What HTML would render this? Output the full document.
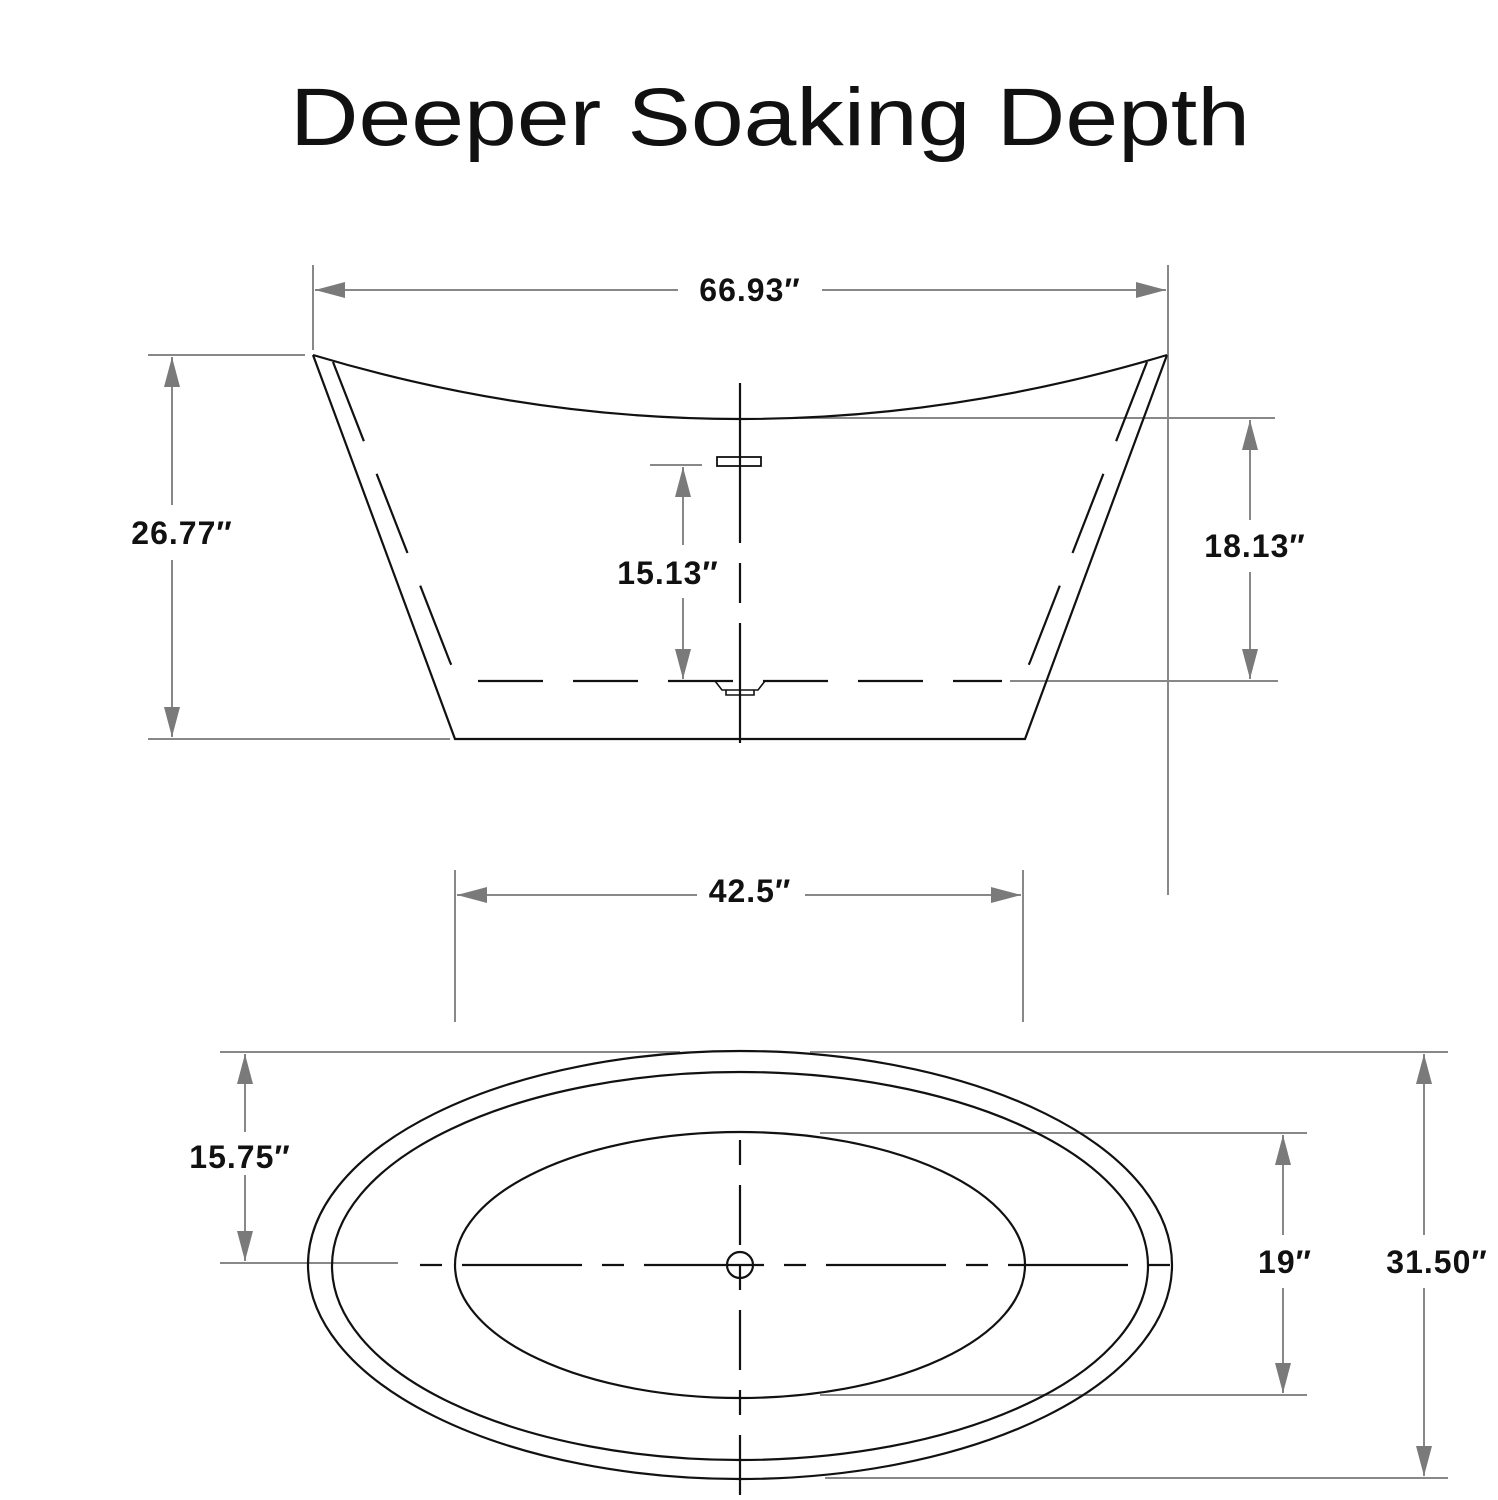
<!DOCTYPE html>
<html><head><meta charset="utf-8"><style>
html,body{margin:0;padding:0;background:#fff}
svg{display:block}
</style></head><body>
<svg width="1498" height="1500" viewBox="0 0 1498 1500" xmlns="http://www.w3.org/2000/svg">
<defs>
<marker id="a" viewBox="0 0 30 16" refX="30" refY="8" markerWidth="30" markerHeight="16" markerUnits="userSpaceOnUse" orient="auto-start-reverse"><path d="M0,0 L30,8 L0,16 Z" fill="#7a7a7a"/></marker>
</defs>
<text x="770" y="145" font-family="Liberation Sans, sans-serif" font-size="82" text-anchor="middle" textLength="960" lengthAdjust="spacingAndGlyphs" fill="#111">Deeper Soaking Depth</text>

<g stroke="#888" stroke-width="2" fill="none">
<line x1="313" y1="265" x2="313" y2="350"/>
<line x1="1168" y1="265" x2="1168" y2="895"/>
<line x1="148" y1="355" x2="305" y2="355"/>
<line x1="148" y1="739" x2="450" y2="739"/>
<line x1="650" y1="465" x2="702" y2="465"/>
<line x1="800" y1="418" x2="1275" y2="418"/>
<line x1="1010" y1="681" x2="1278" y2="681"/>
<line x1="455" y1="870" x2="455" y2="1022"/>
<line x1="1023" y1="870" x2="1023" y2="1022"/>
<line x1="220" y1="1052" x2="680" y2="1052"/>
<line x1="810" y1="1052" x2="1448" y2="1052"/>
<line x1="220" y1="1263" x2="398" y2="1263"/>
<line x1="820" y1="1133" x2="1307" y2="1133"/>
<line x1="820" y1="1395" x2="1307" y2="1395"/>
<line x1="825" y1="1478" x2="1448" y2="1478"/>
<line x1="315" y1="290" x2="678" y2="290" marker-start="url(#a)"/>
<line x1="822" y1="290" x2="1166" y2="290" marker-end="url(#a)"/>
<line x1="172" y1="357" x2="172" y2="505" marker-start="url(#a)"/>
<line x1="172" y1="560" x2="172" y2="737" marker-end="url(#a)"/>
<line x1="683" y1="467" x2="683" y2="545" marker-start="url(#a)"/>
<line x1="683" y1="598" x2="683" y2="679" marker-end="url(#a)"/>
<line x1="1250" y1="420" x2="1250" y2="520" marker-start="url(#a)"/>
<line x1="1250" y1="572" x2="1250" y2="679" marker-end="url(#a)"/>
<line x1="457" y1="895" x2="697" y2="895" marker-start="url(#a)"/>
<line x1="805" y1="895" x2="1021" y2="895" marker-end="url(#a)"/>
<line x1="245" y1="1054" x2="245" y2="1132" marker-start="url(#a)"/>
<line x1="245" y1="1175" x2="245" y2="1261" marker-end="url(#a)"/>
<line x1="1283" y1="1135" x2="1283" y2="1235" marker-start="url(#a)"/>
<line x1="1283" y1="1288" x2="1283" y2="1393" marker-end="url(#a)"/>
<line x1="1424" y1="1054" x2="1424" y2="1235" marker-start="url(#a)"/>
<line x1="1424" y1="1288" x2="1424" y2="1476" marker-end="url(#a)"/>
</g>

<g font-family="Liberation Sans, sans-serif" font-weight="bold" font-size="32" fill="#111" text-anchor="middle" letter-spacing="1">
<text x="750" y="301">66.93″</text>
<text x="182" y="544">26.77″</text>
<text x="668" y="584">15.13″</text>
<text x="1255" y="557">18.13″</text>
<text x="750" y="902">42.5″</text>
<text x="240" y="1168">15.75″</text>
<text x="1285" y="1273">19″</text>
<text x="1437" y="1273">31.50″</text>
</g>

<g stroke="#111" stroke-width="2.2" fill="none">
<path d="M313,355 Q740,483 1167,355"/>
<path d="M313,355 L455,739 L1025,739 L1167,355"/>
<path d="M333,362 L450,662 Q458,681 478,681" stroke-dasharray="85,35"/>
<path d="M1147,362 L1030,662 Q1022,681 1002,681" stroke-dasharray="85,35"/>
<line x1="478" y1="681" x2="1002" y2="681" stroke-dasharray="65,30"/>
<line x1="740" y1="383" x2="740" y2="743" stroke-dasharray="160,20,40,20"/>
<rect x="717" y="457" width="44" height="9" stroke-width="1.8"/>
<path d="M715,681 L722,690 L758,690 L765,681 M726,690 L726,695 L754,695 L754,690" stroke-width="1.6"/>
<ellipse cx="740" cy="1265" rx="432" ry="214"/>
<ellipse cx="740" cy="1266" rx="408" ry="194"/>
<ellipse cx="740" cy="1265" rx="285" ry="133"/>
<line x1="420" y1="1265" x2="1185" y2="1265" stroke-dasharray="22,20,120,20"/>
<line x1="740" y1="1140" x2="740" y2="1497" stroke-dasharray="25,20,60,20"/>
<circle cx="740" cy="1265" r="13"/>
</g>
</svg>
</body></html>
